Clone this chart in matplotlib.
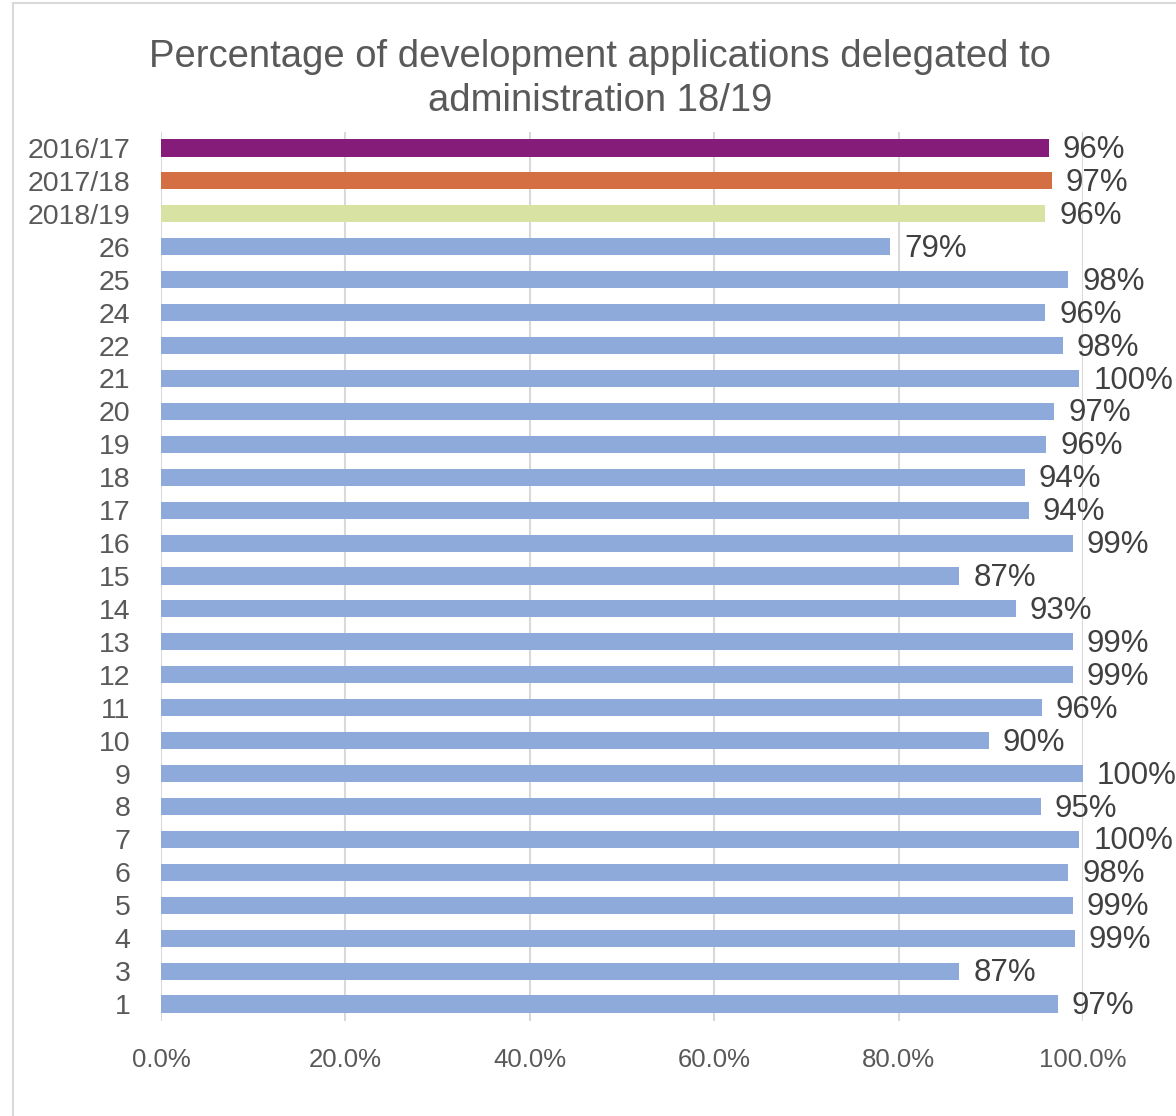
import matplotlib
matplotlib.use("Agg")
import matplotlib.pyplot as plt
from matplotlib.lines import Line2D

plt.rcParams['font.family'] = ['Liberation Sans', 'DejaVu Sans']

categories = ["2016/17", "2017/18", "2018/19", "26", "25", "24", "22", "21", "20",
              "19", "18", "17", "16", "15", "14", "13", "12", "11", "10", "9", "8",
              "7", "6", "5", "4", "3", "1"]
values = [96.3, 96.6, 95.9, 79.1, 98.4, 95.9, 97.8, 99.6, 96.9,
          96.0, 93.7, 94.1, 98.9, 86.6, 92.7, 98.9, 98.9, 95.5, 89.8, 100.0, 95.4,
          99.6, 98.4, 98.9, 99.1, 86.6, 97.3]
labels = ["96%", "97%", "96%", "79%", "98%", "96%", "98%", "100%", "97%",
          "96%", "94%", "94%", "99%", "87%", "93%", "99%", "99%", "96%", "90%", "100%", "95%",
          "100%", "98%", "99%", "99%", "87%", "97%"]
highlight_colors = {"2016/17": "#861C7A", "2017/18": "#D46E43", "2018/19": "#D8E3A3"}
default_color = "#8EAADB"
xticks = [0, 20, 40, 60, 80, 100]

fig = plt.figure(figsize=(11.76, 11.16), dpi=100)
bx = 13 / 1176
ty = 1 - 3 / 1116
fig.lines.append(Line2D([bx, bx], [0, ty], transform=fig.transFigure, color="#D9D9D9", linewidth=1.5))
fig.lines.append(Line2D([bx, 1], [ty, ty], transform=fig.transFigure, color="#D9D9D9", linewidth=1.5))
ax = fig.add_axes([161/1176, 1 - 1020.5/1116, (1083 - 161)/1176, (1020.5 - 131.5)/1116])

n = len(categories)
ypos = list(range(n))[::-1]
colors = [highlight_colors.get(c, default_color) for c in categories]
ax.barh(ypos, values, height=0.52, color=colors, zorder=3)
for y, v, lab in zip(ypos, values, labels):
    ax.annotate(lab, xy=(v, y), xytext=(10, -1.5), textcoords="offset points",
                va="center", ha="left", fontsize=22.5, color="#404040", zorder=4)

ax.set_xlim(0, 100)
ax.set_ylim(-0.5, n - 0.5)
ax.set_yticks(ypos)
ax.set_yticklabels(categories, fontsize=20.5, color="#595959")
ax.set_xticks(xticks)
ax.set_xticklabels([f"{t:.1f}%" for t in xticks], fontsize=18.5, color="#595959")
ax.tick_params(axis="both", length=0)
ax.tick_params(axis="x", pad=20)
ax.tick_params(axis="y", pad=22)
ax.grid(axis="x", color="#D9D9D9", linewidth=1.5, zorder=0)
for s in ax.spines.values():
    s.set_visible(False)

fig.text(600/1176, 1 - 79/1116, "Percentage of development applications delegated to\nadministration 18/19",
         ha="center", va="center", fontsize=27.5, color="#595959", linespacing=1.3)

fig.savefig("out.png", dpi=100, facecolor="white")
